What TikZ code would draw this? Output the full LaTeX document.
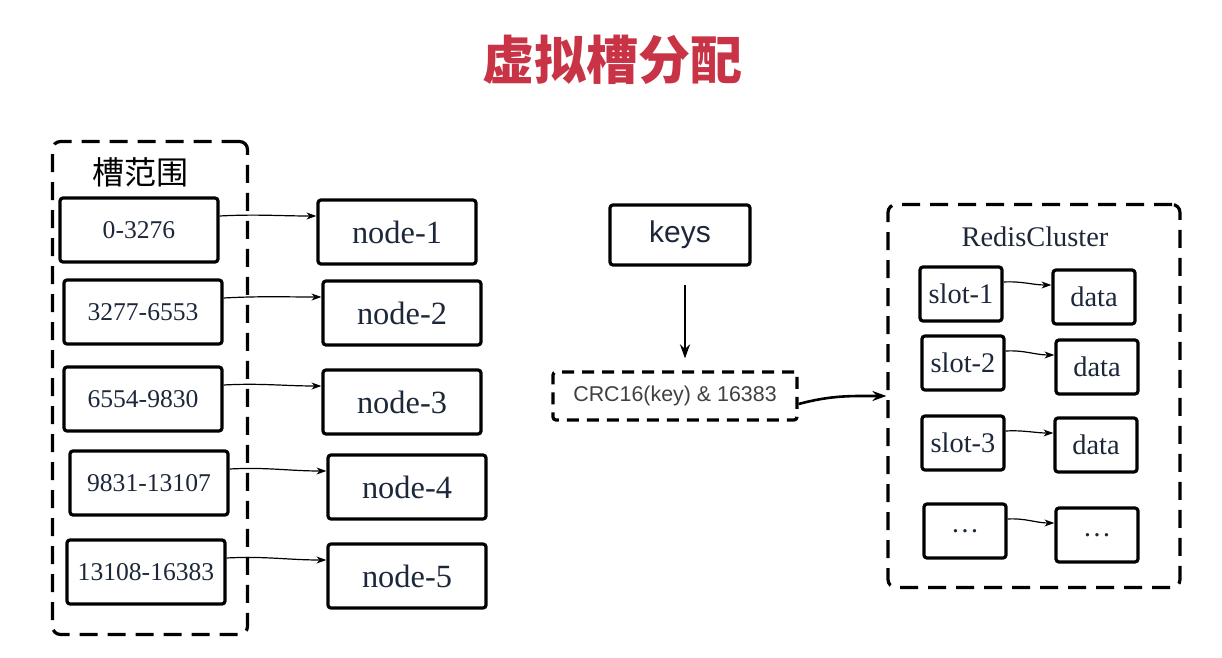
\documentclass[tikz,border=0pt]{standalone}
\usepackage{fontspec}
\setmainfont{Liberation Serif}
\setsansfont{Liberation Sans}
\newfontfamily\cjk{Noto Sans CJK SC}
\usepackage{tikz}
\usetikzlibrary{arrows.meta}
\definecolor{titre}{RGB}{200,52,70}
\definecolor{encre}{RGB}{28,40,58}
\tikzset{
  boite/.style={draw,line width=1.6pt,rounded corners=1.5pt,text=encre,inner sep=0pt},
  plage/.style={boite,minimum width=79pt,minimum height=32pt,font=\fontsize{12.8}{15}\selectfont},
  noeud/.style={boite,minimum width=79pt,minimum height=32pt,font=\fontsize{16.2}{19}\selectfont},
  slot/.style={boite,minimum width=41pt,minimum height=27pt,font=\fontsize{14.2}{17}\selectfont},
  groupe/.style={draw,line width=1.6pt,dash pattern=on 9pt off 5pt,rounded corners=4pt,inner sep=0pt},
  fin/.style={-{Stealth[length=5pt,width=3.5pt]},line width=0.6pt},
  gros/.style={-{Stealth[length=7pt,width=5pt]},line width=1.3pt}
}
\begin{document}
\begin{tikzpicture}[x=0.5pt,y=-0.5pt]
        \useasboundingbox (0,0) rectangle (1222,658);
        \path(612,60) node[text=titre,font=\cjk\bfseries\fontsize{26}{30}\selectfont]{虚拟槽分配};

        % Plages de slots
        \node[groupe,minimum width=97.5pt,minimum height=246.5pt] (plages) at (150,388) {};
        \path(140,172) node[font=\cjk\fontsize{16}{19}\selectfont]{槽范围};
        \node[plage] (r1) at (139,230) {0-3276};
        \node[plage] (r2) at (143,312) {3277-6553};
        \node[plage] (r3) at (143,399) {6554-9830};
        \node[plage] (r4) at (149,483) {9831-13107};
        \node[plage] (r5) at (146,572) {13108-16383};

        \node[noeud] (n1) at (397,232) {node-1};
        \node[noeud] (n2) at (402,313) {node-2};
        \node[noeud] (n3) at (402,402) {node-3};
        \node[noeud] (n4) at (407,487) {node-4};
        \node[noeud] (n5) at (407,576) {node-5};

        \foreach \i in {1,...,5}
          \draw[fin] ([yshift=7pt]r\i.east) to[out=3,in=180] ([yshift=8pt]n\i.west);

        % Calcul du slot
        \node[boite,minimum width=70pt,minimum height=30pt,font=\sffamily\fontsize{15}{18}\selectfont] (keys) at (680,235) {keys};
        \node[boite,dash pattern=on 6pt off 4pt,minimum width=122pt,minimum height=24pt,text=black!75,font=\sffamily\fontsize{10.7}{13}\selectfont] (crc) at (675,396) {CRC16(key) \& 16383};
        \draw[gros,shorten <=9pt,shorten >=6pt] ([xshift=2.5pt]keys.south) -- ([xshift=2.5pt]keys.south |- crc.north);

        % Cluster
        \node[groupe,minimum width=146pt,minimum height=191.5pt] (cluster) at (1034,396) {};
        \draw[gros] ([yshift=-4pt]crc.east) to[out=15,in=180] (cluster.west);
        \path(1035,237) node[text=encre,font=\fontsize{14.2}{17}\selectfont]{RedisCluster};
        \node[slot] (s1) at (961,294) {slot-1};
        \node[slot] (d1) at (1094,297) {data};
        \node[slot] (s2) at (963,363) {slot-2};
        \node[slot] (d2) at (1097,367) {data};
        \node[slot] (s3) at (963,443) {slot-3};
        \node[slot] (d3) at (1096,445) {data};
        \node[slot] (s4) at (965,531) {\dots};
        \node[slot] (d4) at (1097,535) {\dots};
        \foreach \i in {1,...,4}
          \draw[fin] ([yshift=6pt]s\i.east) to[out=3,in=180] ([yshift=6pt]d\i.west);
\end{tikzpicture}
\end{document}
